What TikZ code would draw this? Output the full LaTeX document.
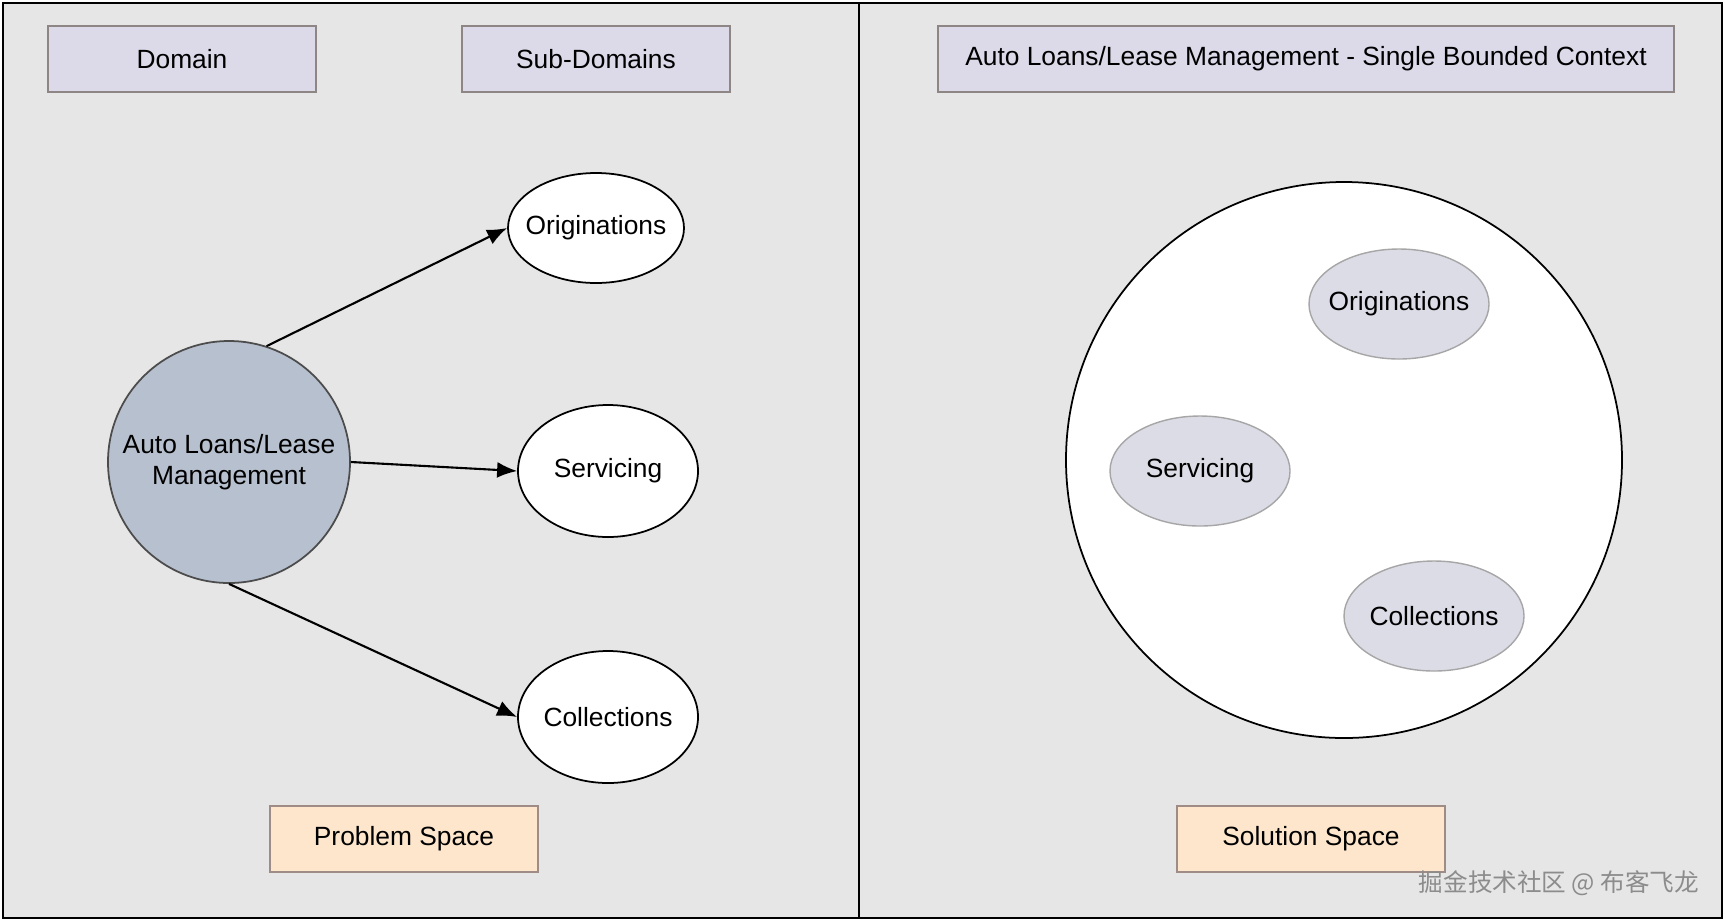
\documentclass[tikz,border=0pt]{standalone}
\usepackage{fontspec}
\setmainfont{Liberation Sans}
\newfontfamily\cjk{Noto Sans CJK SC}
\usetikzlibrary{arrows.meta,shapes.geometric}
\definecolor{bggray}{HTML}{E6E6E6}
\definecolor{titlefill}{HTML}{DCD9E9}
\definecolor{titleline}{HTML}{8E8585}
\definecolor{spacefill}{HTML}{FDE6CC}
\definecolor{spaceline}{HTML}{A08C86}
\definecolor{domainfill}{HTML}{B7C0CE}
\definecolor{ctxfill}{HTML}{DCDCE7}
\tikzset{
  titlebox/.style={draw=titleline, fill=titlefill, line width=1pt,
    minimum width=5.36cm, minimum height=1.32cm, inner sep=0pt},
  spacebox/.style={titlebox, draw=spaceline, fill=spacefill},
  subdomain/.style={ellipse, draw, fill=white, line width=1pt, inner sep=0pt},
  ctxpart/.style={ellipse, draw=gray!70, fill=ctxfill, line width=0.8pt,
    minimum width=3.6cm, minimum height=2.2cm, inner sep=0pt},
  link/.style={-{Latex[length=4mm,width=3.2mm]}, line width=1.2pt},
}

\begin{document}
\begin{tikzpicture}[font=\fontsize{15}{18}\selectfont]
    \useasboundingbox (0,0) rectangle (34.5,-18.46);
    % 外框
    \fill[white] (0,0) rectangle (34.5,-18.46);
    \draw[fill=bggray, line width=1.6pt] (0.06,-0.06) rectangle (34.44,-18.36);
    \draw[line width=1.2pt] (17.18,-0.06) -- (17.18,-18.36);
    % 问题空间
    \node[titlebox] (domain) at (3.64,-1.18) {Domain};
    \node[titlebox] (subdomains) at (11.92,-1.18) {Sub-Domains};
    \node[circle, draw=black!70, fill=domainfill, line width=1pt, minimum size=4.84cm,
      inner sep=0pt, align=center] (main) at (4.58,-9.24) {Auto Loans/Lease\\Management};
    \node[subdomain, minimum width=3.52cm, minimum height=2.2cm, inner xsep=-0.2cm] (orig) at (11.92,-4.56) {Originations};
    \node[subdomain, minimum width=3.6cm, minimum height=2.64cm] (serv) at (12.16,-9.42) {Servicing};
    \node[subdomain, minimum width=3.6cm, minimum height=2.64cm, inner xsep=-0.05cm] (coll) at (12.16,-14.34) {Collections};
    \draw[link] (main.72) -- (orig.west);
    \draw[link] (main.east) -- (serv.west);
    \draw[link] (main.south) -- (coll.west);
    \node[spacebox] (problem) at (8.08,-16.78) {Problem Space};
    % 解决方案空间
    \node[titlebox, minimum width=14.72cm] (context) at (26.12,-1.18)
      {Auto Loans/Lease Management - Single Bounded Context};
    \node[circle, draw, fill=white, line width=1pt, minimum size=11.12cm, inner sep=0pt]
      (bounded) at (26.88,-9.2) {};
    \node[ctxpart, inner xsep=-0.2cm] (origctx) at (27.98,-6.08) {Originations};
    \node[ctxpart] (servctx) at (24.0,-9.42) {Servicing};
    \node[ctxpart, inner xsep=-0.05cm] (collctx) at (28.68,-12.32) {Collections};
    \node[spacebox] (solution) at (26.22,-16.78) {Solution Space};
    % 水印
    \node[text=black!45, font=\cjk\fontsize{14}{16}\selectfont] (mark) at (31.18,-17.66)
      {掘金技术社区 @ 布客飞龙};
\end{tikzpicture}
\end{document}
